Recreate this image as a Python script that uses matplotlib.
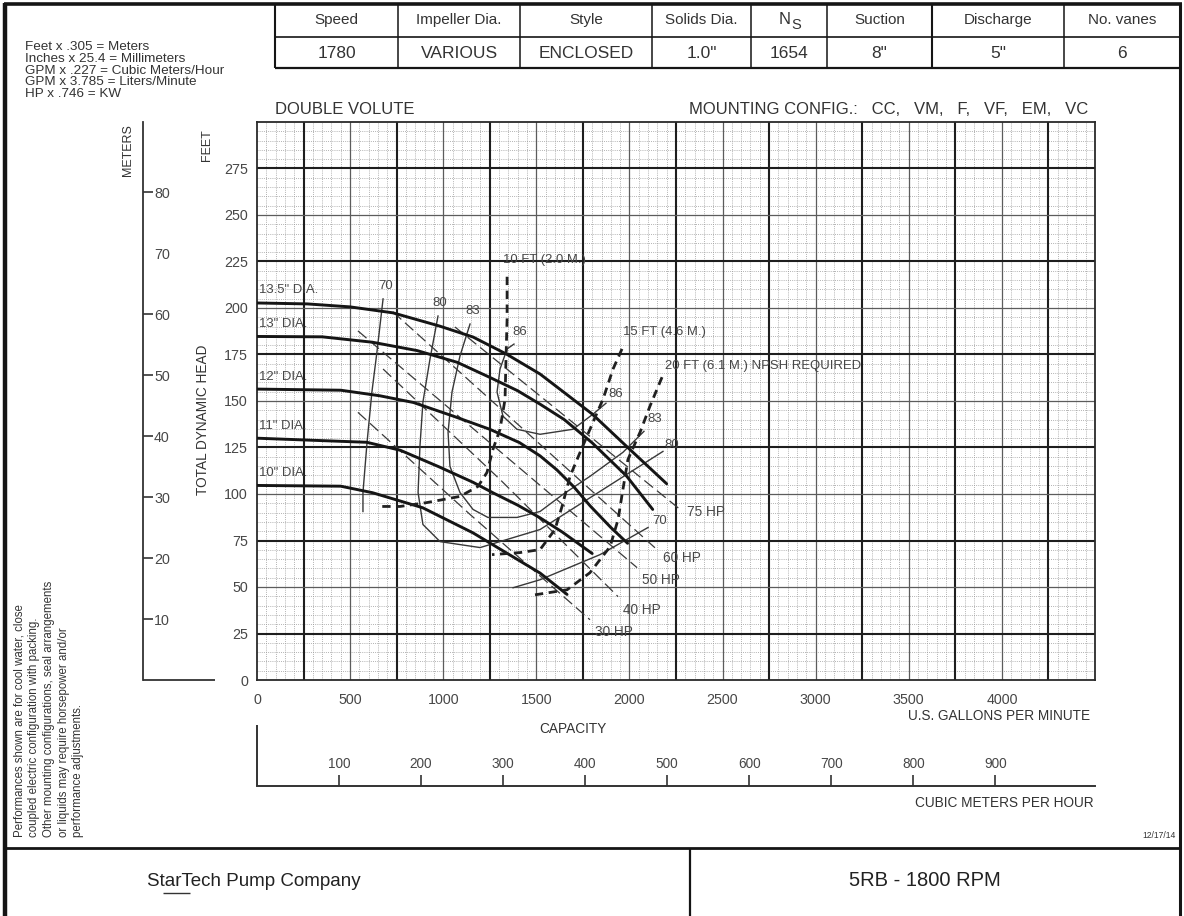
import numpy as np
import matplotlib
matplotlib.use("Agg")
import matplotlib.pyplot as plt
from matplotlib import font_manager

# ------------------------------------------------------------------ data
gpm_ticks = [0, 500, 1000, 1500, 2000, 2500, 3000, 3500, 4000]
feet_ticks = [0, 25, 50, 75, 100, 125, 150, 175, 200, 225, 250, 275]
meter_ticks = [10, 20, 30, 40, 50, 60, 70, 80]
m3h_ticks = [100, 200, 300, 400, 500, 600, 700, 800, 900]

conv_lines = ["Feet x .305 = Meters", "Inches x 25.4 = Millimeters",
              "GPM x .227 = Cubic Meters/Hour", "GPM x 3.785 = Liters/Minute",
              "HP x .746 = KW"]
table_head = ["Speed", "Impeller Dia.", "Style", "Solids Dia.", "N", "Suction", "Discharge", "No. vanes"]
table_vals = ["1780", "VARIOUS", "ENCLOSED", '1.0"', "1654", '8"', '5"', "6"]
note_lines = ["Performances shown are for cool water, close",
              "coupled electric configuration with packing.",
              "Other mounting configurations, seal arrangements",
              "or liquids may require horsepower and/or",
              "performance adjustments."]

dia_labels = ['13.5" DIA.', '13" DIA.', '12" DIA.', '11" DIA.', '10" DIA.']
q_d135 = [0, 270, 500, 730, 980, 1160, 1340, 1520, 1640, 1800, 1990, 2200]
h_d135 = [202.7, 202.2, 200.6, 197.4, 190.3, 184.4, 175.2, 164.5, 155.3, 143.0, 125.1, 105.5]
q_d13 = [0, 350, 620, 860, 1075, 1250, 1400, 1520, 1650, 1800, 1985, 2125]
h_d13 = [184.7, 184.5, 181.6, 177.1, 170.8, 162.7, 155.5, 148.3, 140.0, 127.5, 109.6, 91.7]
q_d12 = [0, 450, 660, 840, 1050, 1250, 1410, 1520, 1610, 1700, 1790, 1900, 1990]
h_d12 = [156.4, 155.8, 152.8, 149.2, 142.0, 134.8, 127.6, 120.5, 113.0, 104.0, 93.5, 82.0, 73.5]
q_d11 = [0, 590, 770, 980, 1160, 1270, 1400, 1520, 1640, 1800]
h_d11 = [130.0, 127.8, 123.5, 114.5, 106.3, 100.5, 94.0, 87.2, 79.5, 68.0]
q_d10 = [0, 450, 620, 890, 1160, 1340, 1520, 1665]
h_d10 = [104.6, 104.2, 100.7, 92.6, 79.1, 68.3, 57.5, 46.0]

# efficiency contours (%)
q_e70a = [677, 644, 617, 591, 569, 569]
h_e70a = [204.9, 176.3, 154.8, 127.8, 100.8, 90.6]
q_e80 = [972, 929, 891, 875, 865, 891, 983, 1198, 1520, 1842, 2180]
h_e80 = [195.7, 172.6, 149.4, 125.6, 100.8, 83.6, 74.4, 71.2, 80.9, 101.4, 122.9]
q_e83 = [1144, 1090, 1047, 1026, 1036, 1090, 1160, 1240, 1396, 1520, 1643, 1788, 1965, 2078]
h_e83 = [191.4, 174.2, 154.8, 133.2, 114.9, 100.8, 91.7, 87.4, 87.4, 90.6, 99.8, 109.5, 122.4, 133.7]
q_e86 = [1380, 1343, 1305, 1289, 1321, 1396, 1520, 1697, 1804, 1874]
h_e86 = [180.6, 178.0, 167.2, 154.8, 141.8, 134.8, 132.1, 134.8, 142.9, 148.8]
q_e70b = [1375, 1520, 1842, 2100]
h_e70b = [49.6, 53.9, 67.4, 82.0]

# NPSH required (dashed)
q_n10 = [1343, 1343, 1337, 1332, 1305, 1267, 1235, 1187, 1090, 913, 768, 644]
h_n10 = [216.8, 194.1, 172.5, 151.0, 134.8, 124.0, 111.6, 104.1, 98.7, 95.4, 93.3, 93.3]
q_n15 = [1960, 1912, 1858, 1788, 1735, 1681, 1638, 1600, 1520, 1412, 1262]
h_n15 = [178.0, 167.2, 151.0, 134.8, 122.4, 109.5, 93.3, 80.9, 70.1, 68.5, 67.4]
q_n20 = [2175, 2110, 2057, 1992, 1965, 1939, 1896, 1788, 1665, 1493]
h_n20 = [162.8, 147.2, 133.2, 118.6, 102.5, 86.3, 71.7, 57.7, 48.5, 45.8]

# horsepower lines
q_hp75 = [1063, 2272]
h_hp75 = [189.8, 91.7]
q_hp60 = [730, 2148]
h_hp60 = [197.9, 70.1]
q_hp50 = [542, 2041]
h_hp50 = [187.7, 60.4]
q_hp40 = [677, 1305, 1939]
h_hp40 = [167.2, 107.8, 44.8]
q_hp30 = [542, 1144, 1788]
h_hp30 = [143.9, 89.0, 32.4]

# ------------------------------------------------------------------ fonts
names = {f.name for f in font_manager.fontManager.ttflist}
HAS_NARROW = "Liberation Sans Narrow" in names
NARROW = "Liberation Sans Narrow" if HAS_NARROW else "Liberation Sans"
REG = "Liberation Sans"
def ns(s):
    return s if HAS_NARROW else s * 0.82

TXT = "#333333"
LBL = "#474747"
K = "#151515"

W, H = 1184, 916
L, R, T, B = 257, 1095, 122, 680
fig = plt.figure(figsize=(W / 100, H / 100), dpi=100)
fig.patch.set_facecolor("white")

# ------------------------------------------------------------------ overlay (frame, table, texts)
ov = fig.add_axes([0, 0, 1, 1], zorder=0)
ov.set_xlim(0, W)
ov.set_ylim(H, 0)
ov.axis("off")

def oline(xs, ys, lw=1.2, c=K):
    ov.plot(xs, ys, color=c, lw=lw, solid_capstyle="butt")

oline([5, 5], [3, 916], 3.2)
oline([1180, 1180], [3, 916], 2.2)
oline([4, 1181.5], [4, 4], 2.6)
# table
tab_x = [275, 398, 520, 652, 751, 827, 932, 1064, 1180]
oline([275, 1180], [37, 37], 1.2)
oline([275, 1180], [68, 68], 1.6)
for x in tab_x[:-1]:
    oline([x, x], [4, 68], 1.5 if x in (275, 932) else 1.1)
for i in range(8):
    cx = 0.5 * (tab_x[i] + tab_x[i + 1])
    if table_head[i] == "N":
        ov.text(cx - 4, 20, "N", ha="center", va="center", fontsize=12, family=REG, color=TXT)
        ov.text(cx + 7, 25, "S", ha="center", va="center", fontsize=10.5, family=REG, color=TXT)
    else:
        ov.text(cx, 20, table_head[i], ha="center", va="center", fontsize=11, family=REG, color=TXT)
    ov.text(cx, 53, table_vals[i], ha="center", va="center", fontsize=12.5, family=REG, color=TXT)

for i, s in enumerate(conv_lines):
    ov.text(25, 47 + 11.8 * i, s, ha="left", va="center", fontsize=9.7, family=REG, color=TXT)

ov.text(275, 109, "DOUBLE VOLUTE", ha="left", va="center", fontsize=12, family=REG, color=TXT)
ov.text(1088, 109, "MOUNTING CONFIG.:   CC,   VM,   F,   VF,   EM,   VC", ha="right", va="center",
        fontsize=12, family=REG, color=TXT)

# rotated axis titles
ov.text(128, 150, "METERS", rotation=90, ha="center", va="center", fontsize=ns(11), family=NARROW, color=TXT)
ov.text(207, 145, "FEET", rotation=90, ha="center", va="center", fontsize=ns(11), family=NARROW, color=TXT)
ov.text(203, 420, "TOTAL DYNAMIC HEAD", rotation=90, ha="center", va="center", fontsize=ns(12),
        family=NARROW, color=TXT)
oline([143, 215], [680, 680], 1.3, "#333333")

# bottom texts
ov.text(1090, 716, "U.S. GALLONS PER MINUTE", ha="right", va="center", fontsize=ns(12), family=NARROW, color=TXT)
ov.text(573, 729, "CAPACITY", ha="center", va="center", fontsize=ns(12), family=NARROW, color=TXT)
ov.text(1094, 803, "CUBIC METERS PER HOUR", ha="right", va="center", fontsize=ns(12), family=NARROW, color=TXT)
oline([257, 257], [725, 786], 1.4, "#333333")
ov.text(1176, 836, "12/17/14", ha="right", va="center", fontsize=ns(7.5), family=NARROW, color=TXT)

for i, s in enumerate(note_lines):
    ov.text(20 + 14.5 * i, 837, s, rotation=90, rotation_mode="anchor", ha="left", va="center",
            fontsize=8.3, family=REG, color=TXT)

# footer
oline([5, 1180], [848, 848], 2.0)
oline([690, 690], [848, 916], 1.6)
ov.text(147, 882, "StarTech Pump Company", ha="left", va="center", fontsize=13.5, family=REG, color="#222222")
oline([163, 190], [893, 893], 1.0, "#333333")
ov.text(925, 881, "5RB - 1800 RPM", ha="center", va="center", fontsize=14.5, family=REG, color="#222222")

# ------------------------------------------------------------------ main chart
ax = fig.add_axes([L / W, 1 - B / H, (R - L) / W, (B - T) / H], zorder=2)
ax.patch.set_alpha(0)
ax.set_xlim(0, 4500)
ax.set_ylim(0, 300)

for q in np.arange(50, 4500, 50):
    if q % 250:
        ax.axvline(q, color="#9a9a9a", lw=0.55, ls=(0, (1.2, 1.6)), zorder=1)
for hh in np.arange(5, 300, 5):
    if hh % 25:
        ax.axhline(hh, color="#9a9a9a", lw=0.55, ls=(0, (1.2, 1.6)), zorder=1)
for k, q in enumerate(np.arange(250, 4500, 250), start=1):
    hv = k % 2 == 1
    ax.axvline(q, color="#1e1e1e" if hv else "#5c5c5c", lw=1.5 if hv else 0.9, zorder=2)
for k, hh in enumerate(np.arange(25, 300, 25), start=1):
    hv = k % 2 == 1
    ax.axhline(hh, color="#1e1e1e" if hv else "#5c5c5c", lw=1.5 if hv else 0.9, zorder=2)

for sp in ax.spines.values():
    sp.set_color("#2a2a2a")
    sp.set_linewidth(1.3)
ax.set_xticks(gpm_ticks)
ax.set_yticks(feet_ticks)
ax.tick_params(length=0, labelsize=ns(12.5), labelcolor=LBL)
ax.tick_params(axis="y", pad=6.5)
ax.tick_params(axis="x", pad=9)
for lab in ax.get_xticklabels() + ax.get_yticklabels():
    lab.set_family(NARROW)

# head-capacity curves
curves = [(q_d135, h_d135), (q_d13, h_d13), (q_d12, h_d12), (q_d11, h_d11), (q_d10, h_d10)]
for (qq, hh), lab in zip(curves, dia_labels):
    ax.plot(qq, hh, color=K, lw=2.1, zorder=6, solid_capstyle="round")
    ax.annotate(lab, xy=(qq[0], hh[0]), xytext=(1.5, 9), textcoords="offset points",
                ha="left", va="center", fontsize=ns(11.5), family=NARROW, color=LBL, zorder=7)

# efficiency lines
eff = [(q_e70a, h_e70a), (q_e80, h_e80), (q_e83, h_e83), (q_e86, h_e86), (q_e70b, h_e70b)]
for qq, hh in eff:
    ax.plot(qq, hh, color="#383838", lw=1.0, zorder=5)
eff_lab = [(q_e70a, h_e70a, 0, "70", (2, 9)), (q_e80, h_e80, 0, "80", (1.5, 9)),
           (q_e83, h_e83, 0, "83", (2, 9)), (q_e86, h_e86, 0, "86", (4, 9)),
           (q_e86, h_e86, -1, "86", (7, 6.5)), (q_e83, h_e83, -1, "83", (8, 9)),
           (q_e80, h_e80, -1, "80", (6.5, 4.5)), (q_e70b, h_e70b, -1, "70", (8.5, 4.5))]
for qq, hh, idx, s, off in eff_lab:
    ax.annotate(s, xy=(qq[idx], hh[idx]), xytext=off, textcoords="offset points",
                ha="center", va="center", fontsize=ns(11.5), family=NARROW, color=LBL, zorder=7)

# NPSH lines
npsh = [(q_n10, h_n10, "10 FT (2.0 M.)", (-3, 12)),
        (q_n15, h_n15, "15 FT (4.6 M.)", (1, 12.5)),
        (q_n20, h_n20, "20 FT (6.1 M.) NPSH REQUIRED", (2, 8))]
for qq, hh, s, off in npsh:
    ax.plot(qq, hh, color="#202020", lw=2.0, ls=(0, (3, 2)), zorder=6)
    ax.annotate(s, xy=(qq[0], hh[0]), xytext=off, textcoords="offset points",
                ha="left", va="center", fontsize=ns(11.5), family=NARROW, color=LBL, zorder=7)

# horsepower lines
hp = [(q_hp75, h_hp75, "75 HP", (5, -1.5)), (q_hp60, h_hp60, "60 HP", (4.3, -5.8)),
      (q_hp50, h_hp50, "50 HP", (3.6, -8.6)), (q_hp40, h_hp40, "40 HP", (3.6, -9.4)),
      (q_hp30, h_hp30, "30 HP", (3.6, -8.6))]
for qq, hh, s, off in hp:
    ax.plot(qq, hh, color="#3a3a3a", lw=0.9, ls=(0, (9, 4)), zorder=5)
    ax.annotate(s, xy=(qq[-1], hh[-1]), xytext=off, textcoords="offset points",
                ha="left", va="center", fontsize=ns(12), family=NARROW, color=LBL, zorder=7)

# ------------------------------------------------------------------ metric head axis
axm = fig.add_axes([(143 - 40) / W, 1 - B / H, 40 / W, (B - T) / H], zorder=2)
axm.patch.set_alpha(0)
axm.set_ylim(0, 300 * 0.305)
axm.set_xticks([])
for k in ("left", "top", "bottom"):
    axm.spines[k].set_visible(False)
axm.spines["right"].set_color("#333333")
axm.spines["right"].set_linewidth(1.3)
axm.yaxis.tick_right()
axm.set_yticks(meter_ticks)
axm.tick_params(axis="y", direction="out", length=7, width=1.2, pad=1, colors="#333333",
                labelsize=ns(12.5), labelcolor=LBL)
for lab in axm.get_yticklabels():
    lab.set_family(NARROW)
for t, v in zip(axm.yaxis.get_major_ticks(), meter_ticks):
    if v == 70:
        t.tick2line.set_visible(False)

# ------------------------------------------------------------------ metric capacity axis
axc = fig.add_axes([L / W, 1 - 800 / H, (R - L) / W, 14 / H], zorder=2)
axc.patch.set_alpha(0)
axc.set_xlim(0, 4500 * 0.227)
axc.set_yticks([])
for k in ("left", "right", "bottom"):
    axc.spines[k].set_visible(False)
axc.spines["top"].set_color("#333333")
axc.spines["top"].set_linewidth(1.4)
axc.xaxis.tick_top()
axc.set_xticks(m3h_ticks)
axc.tick_params(axis="x", direction="out", length=8, width=1.2, pad=3, colors="#333333",
                labelsize=ns(12), labelcolor=LBL)
for lab in axc.get_xticklabels():
    lab.set_family(NARROW)

fig.savefig("out.png", dpi=100, facecolor="white")
